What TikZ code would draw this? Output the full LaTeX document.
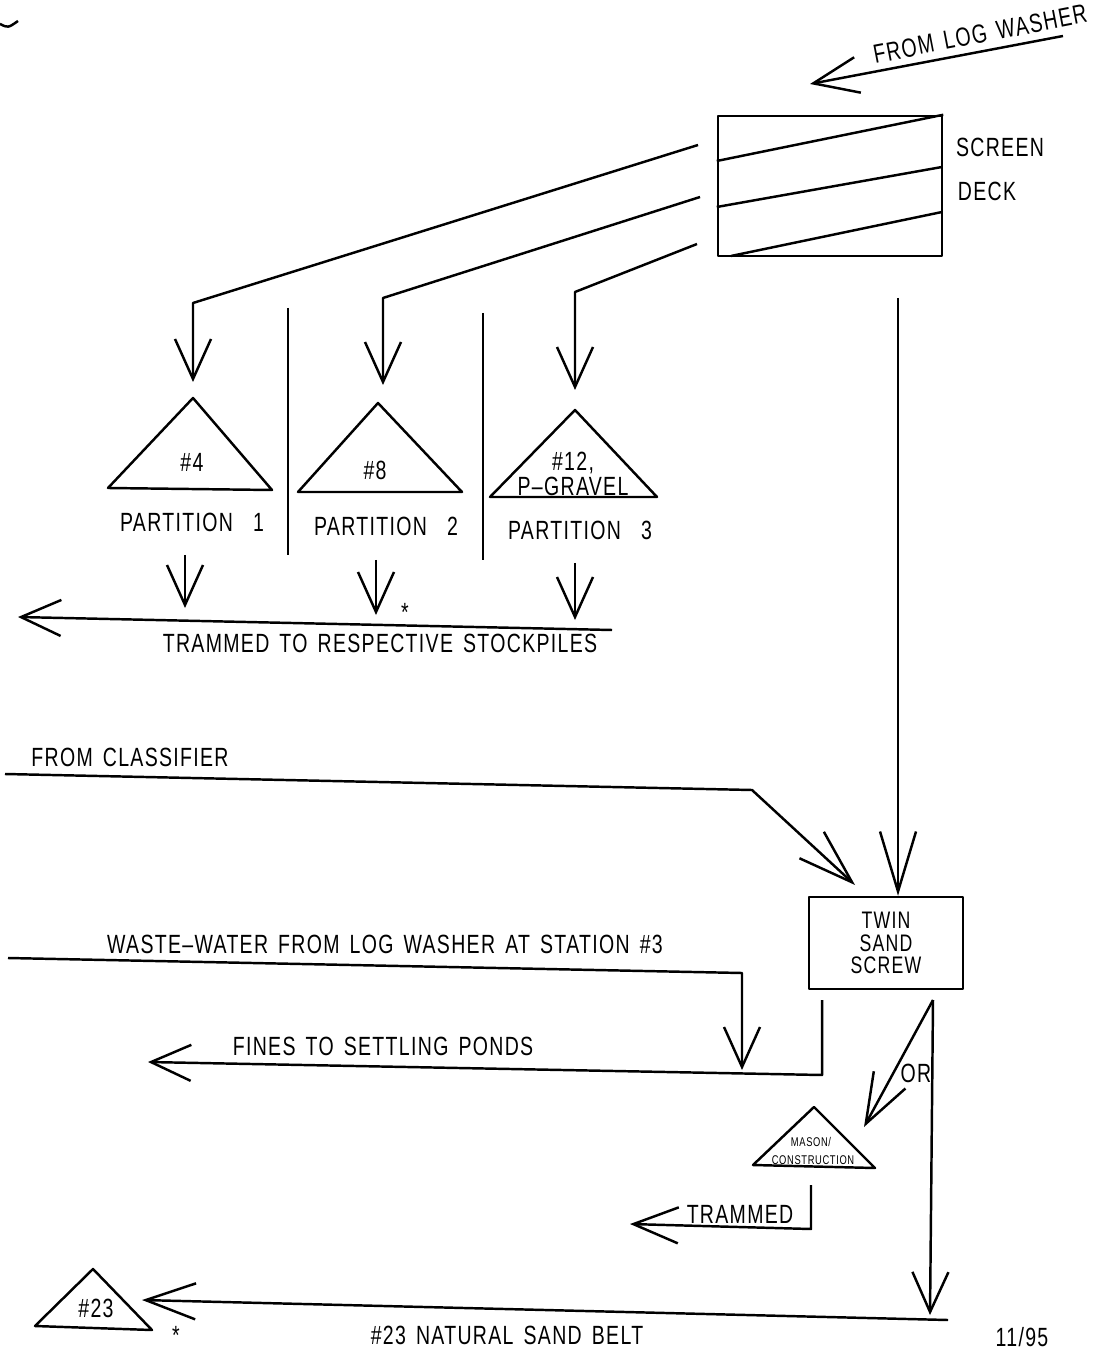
\documentclass[tikz,border=0pt]{standalone}
\usepackage{fontspec}
\newfontfamily\cadfont[FakeStretch=0.74,LetterSpace=5,WordSpace=1.5]{Liberation Sans}
\usetikzlibrary{arrows.meta}
\tikzset{flow/.style={-{Straight Barb[length=#1,width=3.6mm]}},flow/.default=4mm,
  lbl/.style={font=\cadfont\fontsize{7.5}{7}\selectfont,inner sep=0pt,align=center},
  tinylbl/.style={font=\cadfont\fontsize{3.6}{4}\selectfont,inner sep=0pt},
  unit/.style={draw,inner sep=0pt}}

\begin{document}
\begin{tikzpicture}[x=0.1mm,y=-0.1mm,line width=.7pt,line join=round]
\useasboundingbox (0,0) rectangle (1097,1348);
\draw (0,24) .. controls (8,28) .. (18,21);
% screen deck
\node[unit,minimum width=2.24cm,minimum height=1.4cm] (deck) at (830,186) {};
\draw (deck.west |- 0,161) -- (deck.north east);
\draw (deck.west |- 0,207) -- (942,167);
\draw (731,256) -- (942,212);
\node[lbl] (screen) at (1000,147) {SCREEN};
\node[lbl] (decklbl) at (987,191) {DECK};
\node[lbl,rotate=11] (fromlog) at (980,34) {FROM LOG WASHER};
\coordinate (lw0) at (1063,36);
\coordinate (lw1) at (810,84);
\draw[flow=4.5mm] (lw0) -- (lw1);
% three sizes to the partitions
\coordinate (o1) at (698,145);
\coordinate (o2) at (700,197);
\coordinate (o3) at (697,244);
\coordinate (in4) at (193,382);
\coordinate (in8) at (383,385);
\coordinate (in12) at (575,390);
\draw[flow] (o1) -- (193,303) -- (in4);
\draw[flow] (o2) -- (383,298) -- (in8);
\draw[flow] (o3) -- (575,292) -- (in12);
% stockpiles
\draw (193,398) -- (272,490) -- (108,488) -- cycle;
\draw (378,403) -- (462,492) -- (298,492) -- cycle;
\draw (575,410) -- (657,497) -- (490,497) -- cycle;
\node[lbl] (p4) at (192,462) {\#4};
\node[lbl] (p8) at (375,470) {\#8};
\node[lbl] (p12) at (573,474) {\#12,\\P\textendash GRAVEL};
\node[lbl] (part1) at (192,522) {PARTITION\ \ 1};
\node[lbl] (part2) at (386,526) {PARTITION\ \ 2};
\node[lbl] (part3) at (580,530) {PARTITION\ \ 3};
\draw (288,308) -- (288,555);
\draw (483,313) -- (483,560);
\draw[flow] (185,555) -- (185,608);
\draw[flow] (376,560) -- (376,615);
\draw[flow] (575,563) -- (575,620);
\node[lbl] (star1) at (405,612) {*};
\coordinate (tr0) at (612,630);
\coordinate (tr1) at (18,617);
\draw[flow] (tr0) -- (tr1);
\node[lbl] (tramlbl) at (380,643) {TRAMMED TO RESPECTIVE STOCKPILES};
% sand screw
\node[unit,lbl,font=\cadfont\fontsize{6.8}{6.4}\selectfont,minimum width=1.54cm,minimum height=.92cm] (screw) at (886,943) {TWIN\\SAND\\SCREW};
\coordinate (d0) at (898,298);
\draw[flow=6mm] (d0) -- (screw.north -| d0);
\node[lbl] (classlbl) at (130,757) {FROM CLASSIFIER};
\coordinate (c0) at (5,774);
\coordinate (c1) at (855,885);
\draw[flow=5.5mm] (c0) -- (752,790) -- (c1);
\node[lbl] (wastelbl) at (385,944) {WASTE\textendash WATER FROM LOG WASHER AT STATION \#3};
\coordinate (w0) at (8,958);
\coordinate (w1) at (742,1070);
\draw[flow] (w0) -- (742,973) -- (w1);
\node[lbl] (fineslbl) at (383,1046) {FINES TO SETTLING PONDS};
\coordinate (f0) at (822,1000);
\coordinate (f1) at (148,1062);
\draw[flow] (f0) -- (822,1075) -- (f1);
\coordinate (v0) at (933,1000);
\coordinate (v1) at (864,1127);
\coordinate (v2) at (930,1315);
\draw[flow=5mm] (v0) -- (v1);
\draw[flow] (v0) -- (v2);
\node[lbl] (orlbl) at (916,1073) {OR};
% mason pile
\draw (814,1107) -- (875,1168) -- (753,1165) -- cycle;
\node[tinylbl] (mason) at (811,1142) {MASON/};
\node[tinylbl] (constr) at (813,1160) {CONSTRUCTION};
\coordinate (m0) at (811,1185);
\coordinate (m1) at (630,1224);
\draw[flow=4.5mm] (m0) -- (811,1229) -- (m1);
\node[lbl] (trammed) at (740,1214) {TRAMMED};
% natural sand belt
\coordinate (b0) at (948,1320);
\coordinate (b1) at (142,1300);
\draw[flow=5mm] (b0) -- (b1);
\draw (93,1269) -- (152,1330) -- (35,1326) -- cycle;
\node[lbl] (p23) at (96,1308) {\#23};
\node[lbl] (star2) at (176,1335) {*};
\node[lbl] (beltlbl) at (507,1335) {\#23 NATURAL SAND BELT};
\node[lbl] (date) at (1022,1337) {11/95};
\end{tikzpicture}
\end{document}
